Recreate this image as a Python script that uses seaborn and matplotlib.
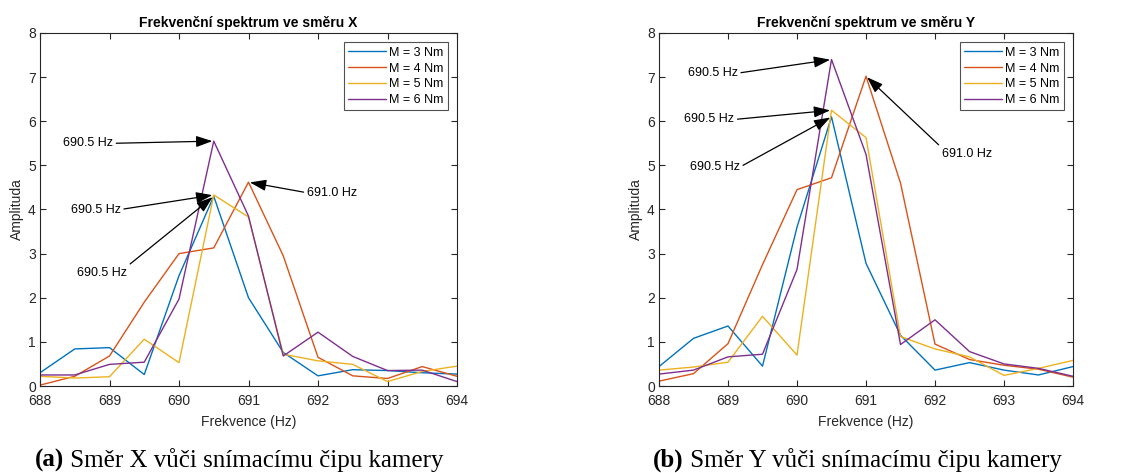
import matplotlib
matplotlib.use("Agg")
import matplotlib.pyplot as plt
import numpy as np
import pandas as pd
import seaborn as sns

# Frequency bins (Hz)
freq = [688.0, 688.5, 689.0, 689.5, 690.0, 690.5, 691.0, 691.5, 692.0, 692.5, 693.0, 693.5, 694.0]
torques = ["M = 3 Nm", "M = 4 Nm", "M = 5 Nm", "M = 6 Nm"]

# Amplitude spectra, X direction
x_m3 = [0.30, 0.84, 0.87, 0.26, 2.50, 4.30, 2.00, 0.76, 0.23, 0.37, 0.35, 0.30, 0.27]
x_m4 = [0.02, 0.22, 0.68, 1.90, 3.00, 3.13, 4.62, 2.95, 0.65, 0.23, 0.17, 0.44, 0.22]
x_m5 = [0.22, 0.18, 0.21, 1.06, 0.53, 4.33, 3.83, 0.72, 0.57, 0.49, 0.10, 0.33, 0.45]
x_m6 = [0.25, 0.25, 0.49, 0.54, 1.97, 5.55, 3.85, 0.68, 1.22, 0.67, 0.35, 0.36, 0.10]

# Amplitude spectra, Y direction
y_m3 = [0.44, 1.08, 1.36, 0.45, 3.60, 6.10, 2.78, 1.15, 0.36, 0.53, 0.36, 0.25, 0.44]
y_m4 = [0.11, 0.28, 0.96, 2.75, 4.45, 4.72, 7.02, 4.60, 0.95, 0.60, 0.47, 0.38, 0.20]
y_m5 = [0.36, 0.43, 0.54, 1.58, 0.70, 6.25, 5.63, 1.12, 0.84, 0.66, 0.24, 0.40, 0.58]
y_m6 = [0.27, 0.36, 0.66, 0.72, 2.64, 7.40, 5.25, 0.94, 1.50, 0.78, 0.50, 0.40, 0.22]

# Peak annotations: (label, peak frequency, peak amplitude, text x, text y, ha, relpos)
ann_x = [
    ("690.5 Hz", 690.5, 5.55, 689.05, 5.50, "right", (1.0, 0.5)),
    ("690.5 Hz", 690.5, 4.33, 689.16, 4.00, "right", (1.0, 0.5)),
    ("690.5 Hz", 690.5, 4.30, 689.25, 2.57, "right", (1.0, 1.0)),
    ("691.0 Hz", 691.0, 4.62, 691.84, 4.38, "left", (0.0, 0.5)),
]
ann_y = [
    ("690.5 Hz", 690.5, 7.40, 689.14, 7.09, "right", (1.0, 0.5)),
    ("690.5 Hz", 690.5, 6.25, 689.09, 6.04, "right", (1.0, 0.5)),
    ("690.5 Hz", 690.5, 6.10, 689.17, 4.96, "right", (1.0, 0.5)),
    ("691.0 Hz", 691.0, 7.02, 692.10, 5.26, "left", (0.0, 1.0)),
]

palette = ["#0072BD", "#D95319", "#EDB120", "#7E2F8E"]

sns.set_theme(style="white")
plt.rcParams["font.family"] = ["Liberation Sans", "DejaVu Sans"]
axis_col = "#262626"
plt.rcParams.update({
    "axes.edgecolor": axis_col,
    "axes.linewidth": 0.8,
    "xtick.color": axis_col,
    "ytick.color": axis_col,
    "text.color": "black",
})


def long_frame(series):
    rows = []
    for name, vals in zip(torques, series):
        for f, a in zip(freq, vals):
            rows.append({"Frekvence": f, "Amplituda": a, "M": name})
    return pd.DataFrame(rows)


fig = plt.figure(figsize=(11.24, 4.73), dpi=100)
W, H = 1124, 473
ax1 = fig.add_axes([40 / W, 1 - 386 / H, 417 / W, 353 / H])
ax2 = fig.add_axes([659 / W, 1 - 386 / H, 414 / W, 353 / H])

panels = [
    (ax1, [x_m3, x_m4, x_m5, x_m6], "Frekvenční spektrum ve směru X", ann_x),
    (ax2, [y_m3, y_m4, y_m5, y_m6], "Frekvenční spektrum ve směru Y", ann_y),
]

for ax, series, title, anns in panels:
    df = long_frame(series)
    sns.lineplot(data=df, x="Frekvence", y="Amplituda", hue="M",
                 palette=palette, linewidth=1.0, ax=ax, legend=True)
    ax.set_xlim(688, 694)
    ax.set_ylim(0, 8)
    ax.set_xticks(np.arange(688, 695, 1))
    ax.set_yticks(np.arange(0, 9, 1))
    ax.set_xticklabels([str(v) for v in range(688, 695)])
    ax.tick_params(direction="in", length=4, width=0.8, labelsize=10,
                   top=True, right=True, bottom=True, left=True)
    ax.tick_params(axis="x", pad=6)
    ax.tick_params(axis="y", pad=3)
    ax.set_xlabel("Frekvence (Hz)", fontsize=10, labelpad=5)
    ax.set_ylabel("Amplituda", fontsize=10, labelpad=3)
    ax.set_title(title, fontsize=10, fontweight="bold", pad=4)
    for side in ax.spines.values():
        side.set_visible(True)
        side.set_color(axis_col)
    leg = ax.legend(loc="upper right", fontsize=9, frameon=True, fancybox=False,
                    handlelength=3.0, borderpad=0.35, labelspacing=0.3,
                    handletextpad=0.25, borderaxespad=0.75)
    leg.get_frame().set_edgecolor(axis_col)
    leg.get_frame().set_linewidth(0.8)
    for line in leg.get_lines():
        line.set_linewidth(1.0)
    for label, px, py, tx, ty, ha, rel in anns:
        ax.annotate(label, xy=(px, py), xytext=(tx, ty), ha=ha, va="center",
                    fontsize=9,
                    arrowprops=dict(arrowstyle="-|>,head_length=1.1,head_width=0.38",
                                    color="black", lw=0.9, relpos=rel,
                                    shrinkA=0, shrinkB=1))

# Sub-figure captions
serif = ["Liberation Serif", "DejaVu Serif"]
for x0, tag, text in [(35, "(a)", " Směr X vůči snímacímu čipu kamery"),
                      (653, "(b)", " Směr Y vůči snímacímu čipu kamery")]:
    t = fig.text(x0 / W, 1 - 467 / H, tag, fontsize=18, fontweight="bold",
                 family=serif, ha="left", va="baseline")
    fig.draw_without_rendering()
    bb = t.get_window_extent()
    fig.text(bb.x1 / W, 1 - 467 / H, text, fontsize=18, family=serif,
             ha="left", va="baseline")

fig.savefig("out.png", dpi=100, facecolor="white")
